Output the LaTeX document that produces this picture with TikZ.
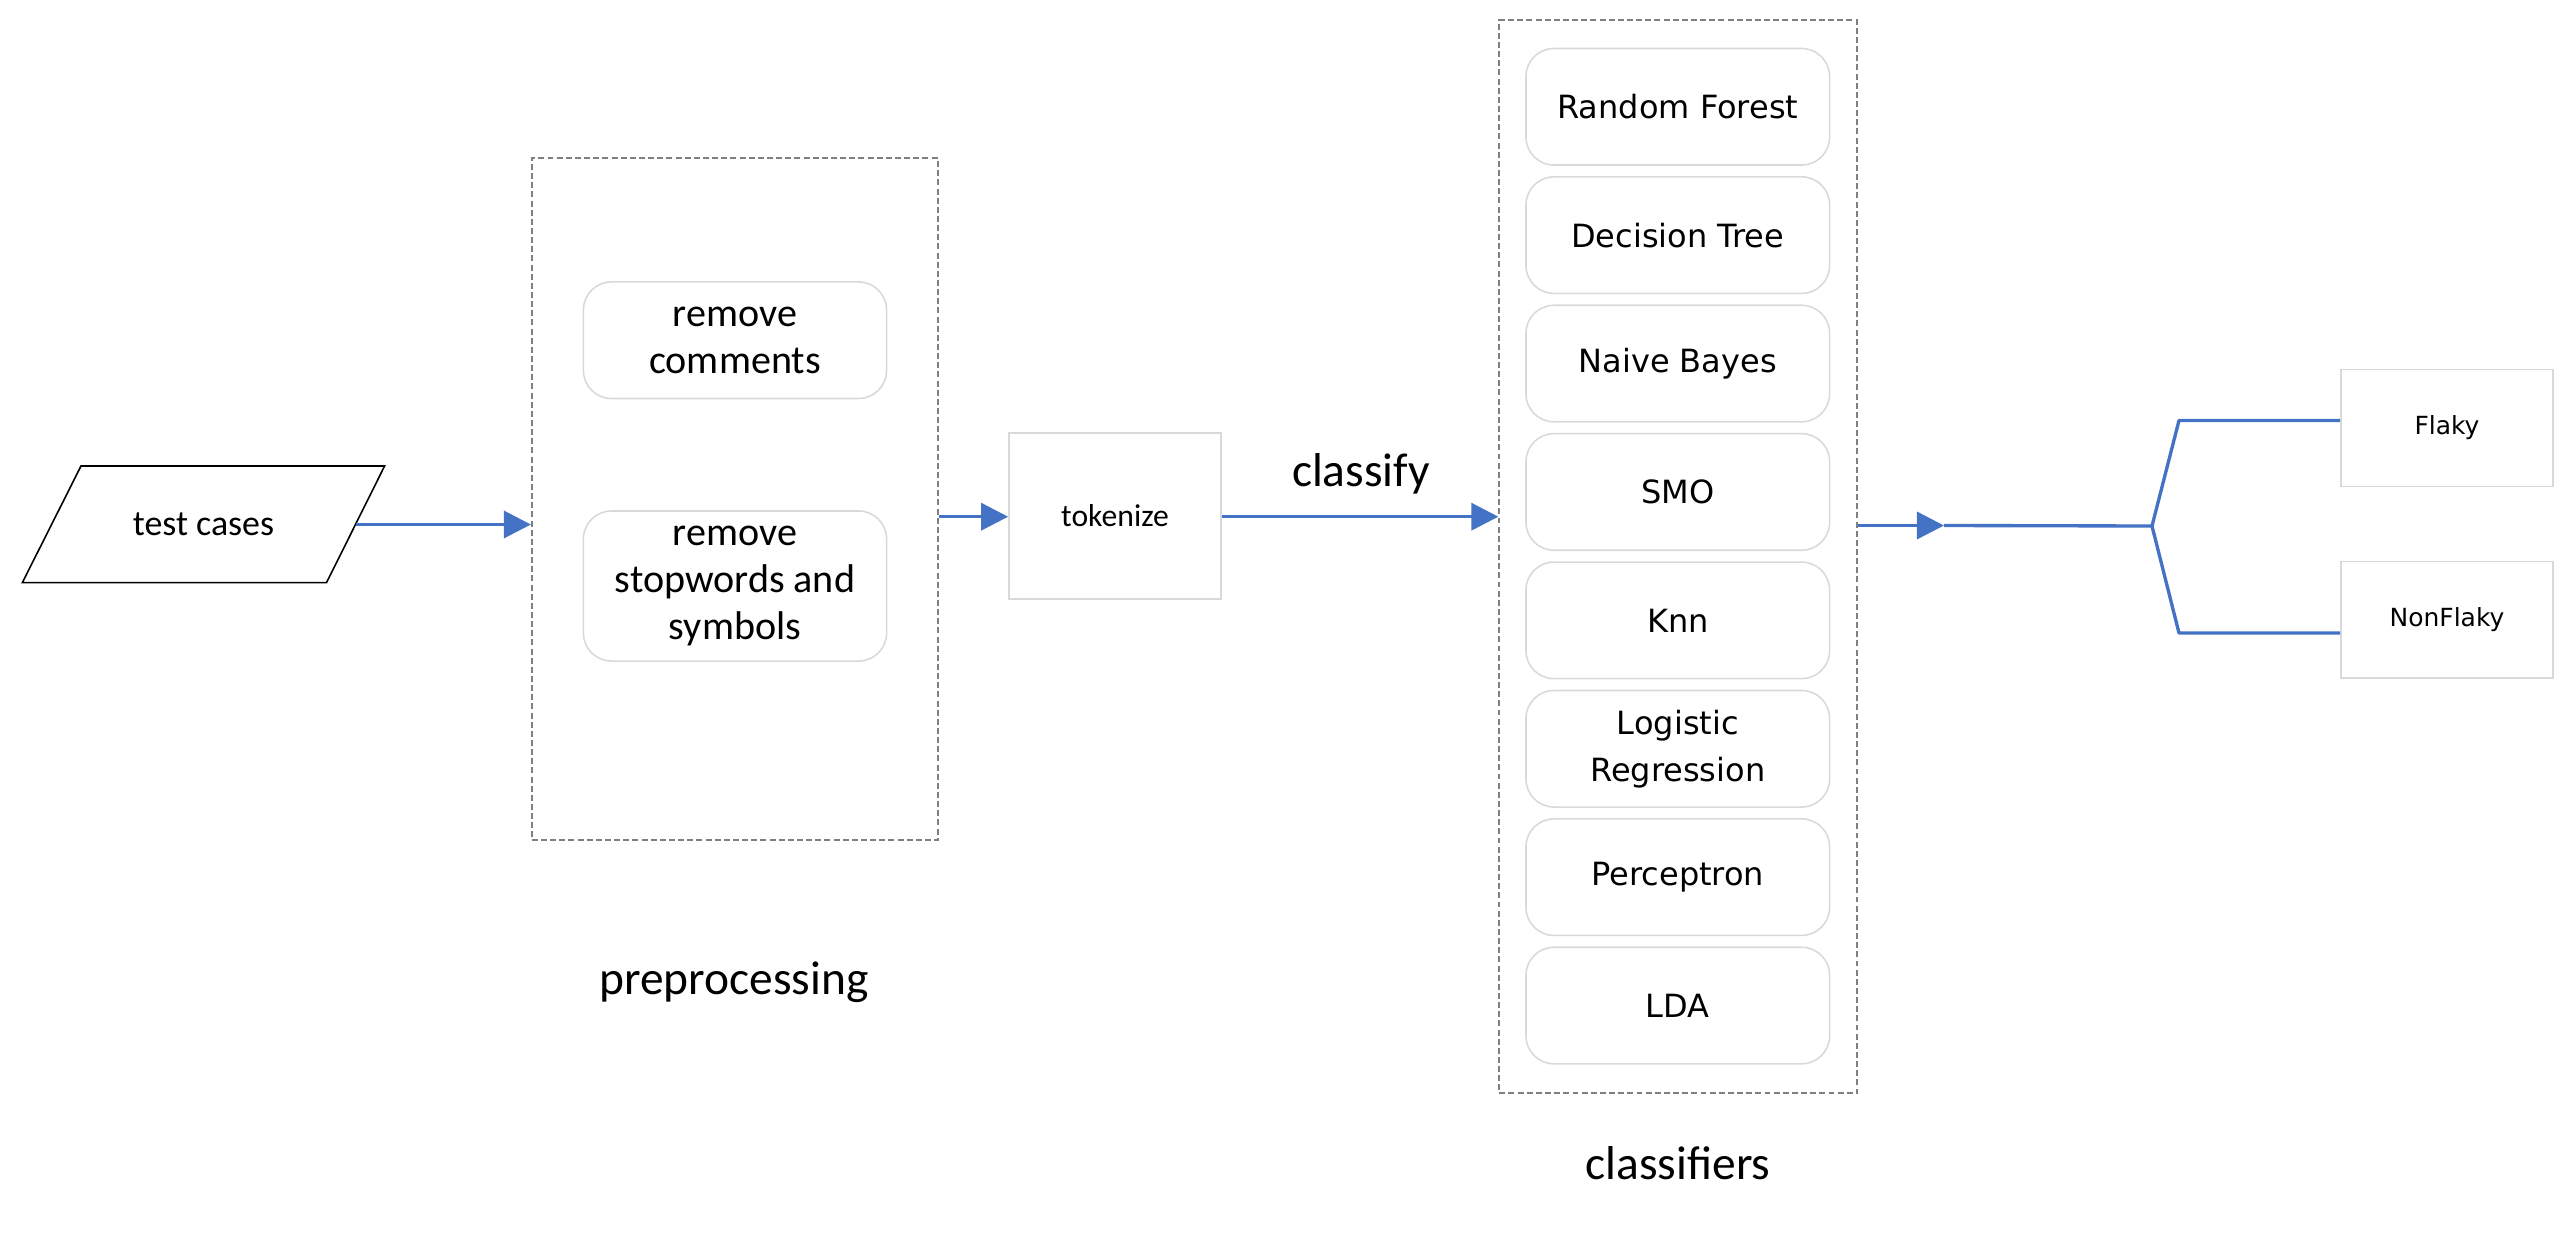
\documentclass[tikz,border=0pt]{standalone}
\usepackage{fontspec}
\setmainfont{Carlito}
\newfontfamily\verd{DejaVu Sans}
\usetikzlibrary{arrows.meta}
\definecolor{flowblue}{HTML}{4472C4}
\definecolor{boxgray}{HTML}{D9D9D9}
\definecolor{dashgray}{HTML}{7F7F7F}
\tikzset{
  flowline/.style={draw=flowblue, line width=0.95pt},
  flowarrow/.style={flowline, -{Triangle[length=7.7pt,width=7.7pt]}},
  groupbox/.style={draw=dashgray, line width=0.55pt, dash pattern=on 1.7pt off 0.9pt, inner sep=0pt},
  softbox/.style={draw=boxgray, line width=0.45pt, rounded corners=0.28cm, inner sep=0pt, align=center},
  plainbox/.style={draw=boxgray, line width=0.45pt, inner sep=0pt, align=center},
  clsbox/.style={softbox, minimum width=3.035cm, minimum height=1.165cm, font=\verd\fontsize{9.1pt}{13.4pt}\selectfont},
  outbox/.style={plainbox, minimum width=2.12cm, minimum height=1.167cm, font=\verd\fontsize{7.1pt}{8.5pt}\selectfont},
  biglabel/.style={font=\fontsize{13.5pt}{16pt}\selectfont, inner sep=0pt, anchor=base},
  ioshape/.style={draw=black, line width=0.45pt},
}
\begin{document}
\begin{tikzpicture}[x=0.01cm, y=-0.01cm]
\useasboundingbox (0,0) rectangle (2574,1236);

% input (parallelogram)
\coordinate (tcA) at (81,466);
\coordinate (tcB) at (384.6,466);
\coordinate (tcC) at (326.5,582.7);
\coordinate (tcD) at (22.3,582.7);
\draw[ioshape] (tcA) -- (tcB) -- (tcC) -- (tcD) -- cycle;
\node[inner sep=0pt, font=\fontsize{10.2pt}{12pt}\selectfont] (tc) at (203.5,524.5) {test cases};
\coordinate (tcE) at (355.5,524.5);

% preprocessing group
\node[groupbox, minimum width=4.056cm, minimum height=6.816cm] (pre) at (734.8,499.2) {};
\node[softbox, minimum width=3.03cm, minimum height=1.165cm, font=\fontsize{11.4pt}{13.5pt}\selectfont] (rc) at (735,340.2) {remove\\comments};
\node[softbox, minimum width=3.03cm, minimum height=1.50cm, font=\fontsize{11.4pt}{13.5pt}\selectfont] (rs) at (735,586) {remove\\stopwords and\\symbols};
\node[biglabel] (prelbl) at (734,994) {preprocessing};

% tokenize
\node[plainbox, minimum width=2.12cm, minimum height=1.66cm, font=\fontsize{9pt}{11pt}\selectfont] (tok) at (1115,516) {tokenize};

% classifiers group
\node[groupbox, minimum width=3.575cm, minimum height=10.725cm] (cls) at (1678.2,556.8) {};
\node[clsbox] (c1) at (1677.8,106.75) {Random Forest};
\node[clsbox] (c2) at (1677.8,235.15) {Decision Tree};
\node[clsbox] (c3) at (1677.8,363.55) {Naive Bayes};
\node[clsbox] (c4) at (1677.8,491.95) {SMO};
\node[clsbox] (c5) at (1677.8,620.35) {Knn};
\node[clsbox] (c6) at (1677.8,748.75) {Logistic\\Regression};
\node[clsbox] (c7) at (1677.8,877.15) {Perceptron};
\node[clsbox] (c8) at (1677.8,1005.55) {LDA};
\node[biglabel] (clslbl) at (1678,1179) {classifiers};

% outputs
\node[outbox] (fl) at (2447,428) {Flaky};
\node[outbox] (nf) at (2447,619.8) {NonFlaky};

% connectors
\draw[flowarrow] (tcE) -- (tcE -| pre.west);
\coordinate (pt) at (937,516.7);
\draw[flowarrow] (pre.east |- pt) -- (tok.west |- pt);
\draw[flowarrow] (tok.east |- pt) -- (cls.west |- pt);
\node[biglabel] (classify) at (1361,486) {classify};

\coordinate (j) at (2152,526);
\coordinate (ah) at (1944,525.5);
\coordinate (fu) at (2179,420.5);
\coordinate (fd) at (2179,633);
\draw[flowarrow] (cls.east |- ah) -- (ah);
\draw[flowline] (ah) -- (j);
\draw[flowline, line join=round] (j) -- (fu) -- (fu -| fl.west);
\draw[flowline, line join=round] (j) -- (fd) -- (fd -| nf.west);
\end{tikzpicture}
\end{document}
